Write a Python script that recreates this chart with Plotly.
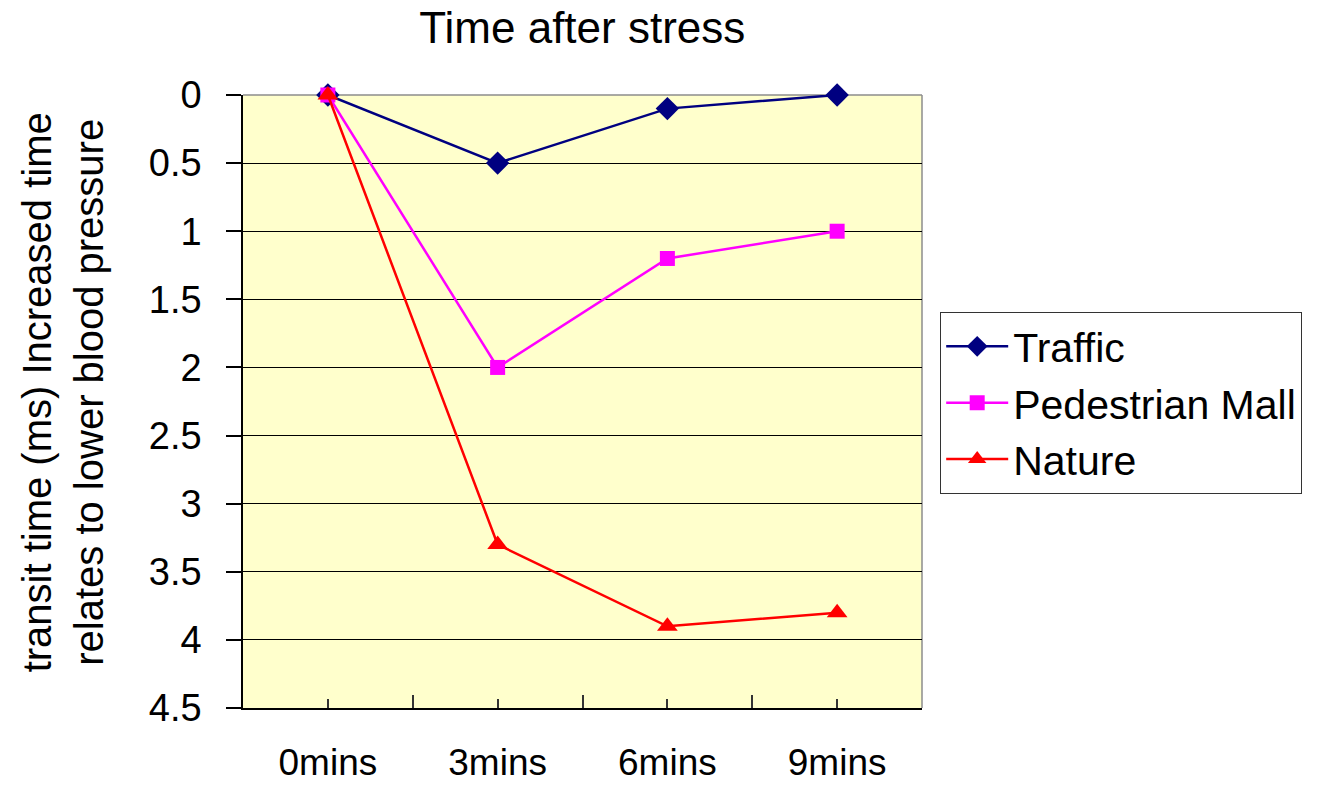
import plotly.graph_objects as go

# Categories and series values
times = ["0mins", "3mins", "6mins", "9mins"]
traffic = [0, 0.5, 0.1, 0]
pedestrian_mall = [0, 2, 1.2, 1]
nature = [0, 3.3, 3.9, 3.8]
y_ticks = [0, 0.5, 1, 1.5, 2, 2.5, 3, 3.5, 4, 4.5]
y_tick_labels = ["0", "0.5", "1", "1.5", "2", "2.5", "3", "3.5", "4", "4.5"]

x_pos = list(range(len(times)))
FONT = "Liberation Sans, Arial, sans-serif"

fig = go.Figure()
series = [
    ("Traffic", traffic, "#000080", "diamond", 18),
    ("Pedestrian Mall", pedestrian_mall, "#FF00FF", "square", 15),
    ("Nature", nature, "#FF0000", "triangle-up", 18),
]
for name, vals, color, symbol, size in series:
    fig.add_trace(go.Scatter(
        x=x_pos, y=vals, name=name, mode="lines+markers",
        line=dict(color=color, width=2.5),
        marker=dict(symbol=symbol, size=size, color=color, line=dict(width=0)),
        cliponaxis=False,
    ))

fig.update_layout(
    width=1334, height=787,
    margin=dict(l=243, r=412, t=95, b=79, autoexpand=False),
    paper_bgcolor="white",
    plot_bgcolor="#FFFFCC",
    font=dict(family=FONT, size=38, color="black"),
    title=dict(text="Time after stress", x=0.4365, xanchor="center",
               y=0.965, yanchor="middle", font=dict(size=44)),
    showlegend=True,
    legend=dict(
        x=1.0265, xanchor="left", y=0.646, yanchor="top",
        bordercolor="#333333", borderwidth=1.2, bgcolor="white",
        font=dict(size=41), tracegroupgap=0, itemwidth=62,
    ),
    annotations=[
        dict(text="transit time (ms) Increased time<br>relates to lower blood pressure",
             xref="paper", yref="paper", x=-0.265, y=0.515,
             xanchor="center", yanchor="middle", textangle=-90,
             showarrow=False, font=dict(size=40), align="center"),
    ],
    shapes=[
        dict(type="line", xref="paper", yref="paper", x0=0, x1=1, y0=1, y1=1,
             line=dict(color="#8c8c8c", width=1.5), layer="below"),
        dict(type="line", xref="paper", yref="paper", x0=1, x1=1, y0=0, y1=1,
             line=dict(color="#8c8c8c", width=1.5), layer="below"),
    ],
)

fig.update_xaxes(
    range=[-0.5, 3.5], tickmode="array", tickvals=x_pos, ticktext=times,
    showgrid=False, zeroline=False, automargin=False,
    showline=True, linecolor="black", linewidth=1.5,
    ticks="inside", ticklen=9, tickwidth=1.5, tickcolor="#333333",
    ticklabelstandoff=21,
    minor=dict(tickmode="array", tickvals=[-0.5, 0.5, 1.5, 2.5, 3.5],
               ticks="inside", ticklen=13, tickwidth=1.5, tickcolor="#333333",
               showgrid=False),
    tickfont=dict(size=37),
)
fig.update_yaxes(
    range=[4.5, 0], tickmode="array", tickvals=y_ticks, ticktext=y_tick_labels,
    showgrid=True, gridcolor="black", gridwidth=1.2, zeroline=False,
    automargin=False,
    showline=True, linecolor="black", linewidth=1.5,
    ticks="outside", ticklen=15, tickwidth=1.5, tickcolor="black",
    ticklabelstandoff=17,
    tickfont=dict(size=38),
)

fig.write_html("out.html")
